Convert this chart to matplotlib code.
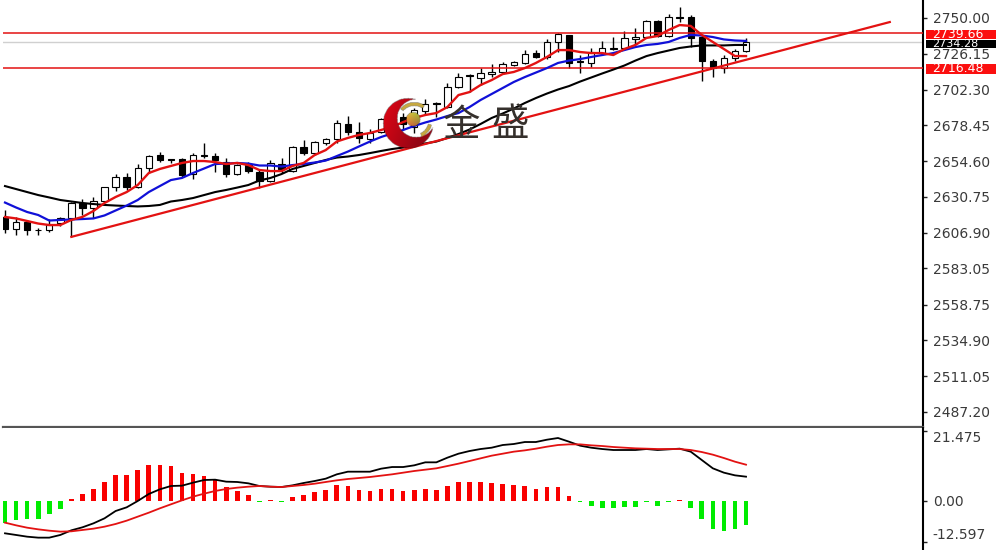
import matplotlib
matplotlib.use('Agg')
import matplotlib.pyplot as plt
from matplotlib.patches import Rectangle
from matplotlib.transforms import blended_transform_factory
import numpy as np

# свечи, значения
opens = [2617.3, 2609.3, 2613.9, 2608.9, 2608.6, 2613.3, 2616.6, 2626.6, 2623.3, 2627.9,
         2637.3, 2643.9, 2637.3, 2649.9, 2658.6, 2655.9, 2655.9, 2645.9, 2658.6, 2657.9,
         2653.9, 2645.9, 2651.9, 2647.3, 2641.3, 2652.6, 2647.9, 2664.0, 2659.9, 2666.6,
         2669.3, 2679.3, 2674.0, 2669.3, 2674.0, 2682.0, 2684.0, 2677.3, 2688.0, 2693.3,
         2690.6, 2704.0, 2712.0, 2710.0, 2712.6, 2714.0, 2718.6, 2720.0, 2726.6, 2724.0,
         2734.0, 2738.7, 2721.0, 2720.0, 2726.6, 2729.3, 2730.0, 2736.0, 2737.3, 2748.0,
         2738.0, 2750.7, 2750.7, 2737.3, 2721.3, 2716.6, 2723.3, 2728.0]
closes = [2609.3, 2613.9, 2608.6, 2608.6, 2611.9, 2616.6, 2626.6, 2623.3, 2627.9, 2637.3,
          2643.9, 2637.3, 2649.9, 2657.9, 2655.3, 2655.3, 2645.3, 2658.6, 2657.9, 2655.3,
          2645.9, 2651.9, 2647.9, 2641.3, 2653.3, 2649.3, 2664.0, 2659.9, 2667.3, 2669.3,
          2680.0, 2674.0, 2670.0, 2673.3, 2682.6, 2676.6, 2679.3, 2688.6, 2692.6, 2692.6,
          2704.0, 2710.6, 2711.6, 2713.3, 2714.0, 2719.3, 2720.6, 2726.0, 2724.0, 2734.0,
          2739.3, 2720.0, 2720.6, 2727.3, 2730.0, 2730.0, 2736.7, 2737.3, 2748.0, 2738.0,
          2750.7, 2750.3, 2736.7, 2721.3, 2716.6, 2723.3, 2728.0, 2734.3]
highs = [2621.9, 2617.3, 2615.3, 2609.9, 2615.9, 2617.3, 2627.3, 2629.3, 2630.6, 2637.3,
         2645.9, 2646.6, 2652.6, 2658.6, 2660.6, 2655.9, 2656.6, 2659.9, 2666.6, 2659.9,
         2656.6, 2652.6, 2653.9, 2648.6, 2655.3, 2656.6, 2664.6, 2668.6, 2668.0, 2670.0,
         2682.0, 2684.6, 2680.6, 2676.0, 2683.3, 2684.0, 2686.6, 2690.0, 2696.0, 2694.0,
         2706.6, 2713.3, 2712.6, 2716.6, 2719.3, 2720.6, 2721.3, 2728.6, 2728.6, 2736.0,
         2740.0, 2738.7, 2725.3, 2730.0, 2734.7, 2737.3, 2741.3, 2743.3, 2748.7, 2748.7,
         2752.7, 2757.3, 2752.0, 2738.7, 2722.6, 2725.3, 2729.3, 2736.7]
lows = [2606.6, 2605.3, 2605.3, 2605.3, 2607.3, 2611.3, 2603.9, 2618.6, 2616.6, 2627.3,
        2634.6, 2635.3, 2636.6, 2646.6, 2653.9, 2653.3, 2643.9, 2642.6, 2656.6, 2647.3,
        2643.9, 2645.3, 2646.6, 2636.6, 2640.6, 2646.6, 2647.3, 2658.6, 2658.6, 2665.3,
        2666.6, 2672.0, 2666.6, 2666.6, 2673.3, 2674.6, 2675.3, 2673.3, 2685.3, 2684.0,
        2690.0, 2703.3, 2700.6, 2705.3, 2710.6, 2713.3, 2718.0, 2719.3, 2723.3, 2722.6,
        2727.3, 2716.6, 2713.3, 2717.3, 2725.3, 2728.6, 2728.6, 2732.0, 2736.7, 2737.3,
        2737.3, 2747.3, 2730.7, 2708.0, 2710.6, 2713.3, 2721.3, 2727.3]

# скользящие средние
ma_black = [2637.9, 2635.9, 2633.9, 2631.9, 2630.3, 2628.6, 2627.6, 2626.6, 2625.9, 2625.3,
            2624.9, 2624.6, 2624.3, 2624.6, 2625.3, 2627.6, 2628.6, 2629.9, 2631.9, 2633.9,
            2635.3, 2636.9, 2638.6, 2641.6, 2643.3, 2645.9, 2649.3, 2651.3, 2653.3, 2655.3,
            2656.9, 2657.6, 2658.6, 2659.9, 2661.3, 2662.6, 2663.6, 2665.0, 2666.3, 2667.6,
            2670.0, 2672.6, 2675.6, 2679.3, 2683.3, 2686.3, 2689.6, 2693.3, 2696.6, 2699.6,
            2702.3, 2704.6, 2707.6, 2710.3, 2713.0, 2715.6, 2718.3, 2721.6, 2724.6, 2726.6,
            2728.3, 2730.0, 2731.0, 2731.7, 2731.7, 2731.7, 2732.0, 2732.0]
ma_blue = [2626.9, 2623.6, 2620.6, 2618.6, 2614.9, 2615.3, 2615.6, 2615.9, 2616.3, 2618.3,
           2621.6, 2624.9, 2628.6, 2633.9, 2637.9, 2641.9, 2643.3, 2646.6, 2649.6, 2652.6,
           2652.9, 2653.3, 2652.9, 2651.6, 2651.6, 2650.9, 2651.9, 2652.6, 2653.6, 2654.9,
           2657.9, 2660.9, 2664.3, 2667.6, 2670.6, 2673.0, 2675.3, 2678.0, 2680.3, 2682.3,
           2684.6, 2686.6, 2690.6, 2695.3, 2699.3, 2703.3, 2707.3, 2710.6, 2713.6, 2716.6,
           2720.0, 2721.6, 2722.6, 2724.0, 2725.3, 2726.6, 2728.6, 2730.6, 2732.0, 2732.7,
           2734.0, 2736.7, 2738.7, 2738.3, 2737.3, 2735.7, 2735.0, 2734.7]
ma_red = [2617.3, 2616.3, 2614.6, 2612.9, 2611.9, 2611.9, 2615.3, 2617.3, 2621.3, 2626.6,
          2630.6, 2633.9, 2638.6, 2646.6, 2649.3, 2651.3, 2653.3, 2654.6, 2654.6, 2653.9,
          2652.6, 2653.3, 2651.9, 2648.6, 2647.9, 2647.9, 2651.3, 2653.3, 2658.6, 2661.9,
          2667.6, 2670.0, 2672.0, 2673.3, 2675.3, 2677.3, 2680.6, 2683.3, 2685.3, 2686.6,
          2690.6, 2698.6, 2700.6, 2705.3, 2708.6, 2712.6, 2714.0, 2716.6, 2720.0, 2724.0,
          2728.6, 2728.6, 2727.3, 2726.6, 2726.6, 2725.3, 2729.3, 2732.0, 2736.7, 2738.0,
          2742.0, 2745.3, 2744.7, 2738.7, 2734.0, 2729.3, 2724.6, 2724.6]

# MACD
macd_hist = [-6.64, -5.93, -5.52, -5.52, -4.09, -2.35, 0.51, 2.04, 3.58, 5.83,
             7.87, 8.07, 9.40, 10.94, 11.14, 10.63, 8.48, 8.28, 7.77, 6.34,
             4.19, 3.07, 1.74, -0.31, 0.30, -0.41, 1.23, 1.74, 2.76, 3.27,
             4.91, 4.60, 3.47, 3.07, 3.68, 3.68, 3.07, 3.27, 3.78, 3.47,
             4.60, 5.72, 5.93, 5.93, 5.52, 5.21, 4.80, 4.60, 3.78, 4.19,
             4.29, 1.53, -0.41, -1.53, -2.04, -2.25, -1.84, -1.74, -0.31, -1.43,
             -0.30, 0.30, -2.04, -5.62, -8.48, -9.10, -8.48, -7.36]
macd_black = [-9.91, -10.42, -10.94, -11.24, -11.24, -10.42, -8.99, -8.07, -6.85, -5.31,
              -3.07, -1.94, 0.0, 2.15, 3.58, 4.60, 4.70, 5.62, 6.44, 6.54,
              5.93, 5.83, 5.42, 4.60, 4.39, 4.29, 4.80, 5.52, 6.13, 6.85,
              8.18, 8.99, 8.99, 8.99, 9.91, 10.42, 10.42, 10.94, 11.86, 11.86,
              13.29, 14.51, 15.33, 15.94, 16.35, 17.17, 17.48, 18.09, 18.09, 18.80,
              19.32, 18.19, 16.97, 16.35, 15.94, 15.64, 15.64, 15.64, 15.94, 15.64,
              15.84, 16.05, 15.13, 12.57, 10.02, 8.69, 7.87, 7.46]
macd_red = [-6.64, -7.46, -8.18, -8.69, -9.10, -9.40, -9.30, -8.89, -8.48, -7.87,
            -7.05, -6.03, -4.80, -3.58, -2.25, -1.02, 0.20, 1.33, 2.25, 3.07,
            3.68, 4.09, 4.39, 4.60, 4.39, 4.29, 4.60, 4.91, 5.31, 5.83,
            6.34, 6.75, 7.05, 7.36, 7.77, 8.18, 8.69, 9.20, 9.61, 10.02,
            10.73, 11.45, 12.26, 13.08, 13.90, 14.51, 15.13, 15.53, 16.05, 16.66,
            17.17, 17.37, 17.37, 17.07, 16.86, 16.56, 16.35, 16.15, 16.05, 15.94,
            15.94, 15.94, 15.64, 15.02, 14.21, 13.18, 12.06, 11.14]

# линии и подписи шкал
trend_x = [6, 80]
trend_y = [2604.0, 2747.3]
level_prices = [2739.66, 2716.48]
last_price = 2734.28
price_ticks = [2750.00, 2726.15, 2702.30, 2678.45, 2654.60, 2630.75,
               2606.90, 2583.05, 2558.75, 2534.90, 2511.05, 2487.20]
macd_ticks = [21.475, 0.00, -12.597]
macd_tick_labels = ['21.475', '0.00', '-12.597']

W, H = 996, 550
STEP = 11.06  # пикселей на свечу
X0 = 5
RED = '#e31212'
TXT = '#3a3a3a'

fig = plt.figure(figsize=(W / 100, H / 100), dpi=100, facecolor='white')
ax = fig.add_axes([3 / W, (H - 427) / H, 920 / W, 427 / H])
ax2 = fig.add_axes([3 / W, 0, 920 / W, (H - 428) / H])

x = np.arange(len(opens))
xlim = ((3 - X0) / STEP, (923 - X0) / STEP)

# горизонтальные уровни
ax.axhline(last_price, color='#d0d0d0', lw=1, zorder=1)
for level in level_prices:
    ax.axhline(level, color=RED, lw=1.1, zorder=4)

# свечи
for i in x:
    black = closes[i] <= opens[i]
    ax.vlines(i, lows[i], highs[i], color='black', lw=1.0, zorder=2)
    bottom = min(opens[i], closes[i])
    height = abs(closes[i] - opens[i])
    ax.bar(i, height, bottom=bottom, width=0.58, facecolor='black' if black else 'white',
           edgecolor='black', linewidth=0.8, zorder=3)

ax.plot(x, ma_black, color='black', lw=1.5, zorder=5)
ax.plot(x, ma_blue, color='#1010d8', lw=1.6, zorder=5)
ax.plot(x, ma_red, color=RED, lw=1.7, zorder=6)
ax.plot(trend_x, trend_y, color=RED, lw=1.6, zorder=6)

ax.set_xlim(xlim)
ax.set_ylim(2762 - 427 * 0.667, 2762)
ax.set_xticks([])
ax.yaxis.tick_right()
ax.set_yticks(price_ticks)
ax.set_yticklabels([f'{p:.2f}' for p in price_ticks], fontsize=10, color=TXT)
ax.tick_params(axis='y', length=3, width=1, pad=4, color='#222222')
for side in ['top', 'left']:
    ax.spines[side].set_visible(False)
ax.spines['right'].set_linewidth(1.5)
ax.spines['bottom'].set_color('#555555')
ax.spines['bottom'].set_linewidth(1.6)

# ценовые метки справа
tr = blended_transform_factory(ax.transAxes, ax.transData)
ax.add_patch(Rectangle((1.003, last_price - 4.0), 0.08, 5.3, transform=tr, facecolor='black',
                       clip_on=False, zorder=7))
ax.text(1.0098, last_price - 1.4, f'{last_price:.2f}', transform=tr, color='white', fontsize=8,
        va='center', clip_on=False, zorder=8)
for level in level_prices:
    ax.add_patch(Rectangle((1.003, level - 4.0), 0.08, 6.6, transform=tr, facecolor='#fb0f0f',
                           clip_on=False, zorder=9))
    ax.text(1.0098, level - 0.4, f'{level:.2f}', transform=tr, color='white', fontsize=9,
            va='center', clip_on=False, zorder=10)

# нижняя панель
for i in x:
    ax2.bar(i, macd_hist[i], width=0.42, color='#f90000' if macd_hist[i] > 0 else '#00ec00', zorder=2)
ax2.plot(x, macd_black, color='black', lw=1.3, zorder=3)
ax2.plot(x, macd_red, color=RED, lw=1.3, zorder=4)
ax2.set_xlim(xlim)
ax2.set_ylim((501 - 550) * 0.3067, (501 - 428) * 0.3067)
ax2.set_xticks([])
ax2.yaxis.tick_right()
ax2.set_yticks(macd_ticks)
ax2.set_yticklabels(macd_tick_labels, fontsize=10, color=TXT)
ax2.tick_params(axis='y', length=3, width=1, pad=4, color='#222222')
labels = ax2.get_yticklabels()
labels[0].set_va('top')
labels[2].set_va('bottom')
for side in ['top', 'left', 'bottom']:
    ax2.spines[side].set_visible(False)
ax2.spines['right'].set_linewidth(1.5)

# логотип поверх графика
logo = fig.add_axes([0, 0, 1, 1], zorder=20)
logo.axis('off')
gx, gy = np.meshgrid(np.arange(380, 436, 0.5), np.arange(96, 150, 0.5))
r_out = np.hypot(gx - 408, gy - 123)
r_in = np.hypot(gx - 416, gy - 118)
ang = np.degrees(np.arctan2(-(gy - 120), gx - 414))
r_arc = np.hypot(gx - 414, gy - 120)
rgba = np.zeros(gx.shape + (4,))

crescent = (r_out <= 25) & (r_in > 19)
shade = np.clip((gx - 383) / 50 + (gy - 100) / 140, 0, 1)
rgba[crescent, 0] = 0.88 - 0.30 * shade[crescent]
rgba[crescent, 1] = 0.02
rgba[crescent, 2] = 0.08
rgba[crescent, 3] = 1

arcs = (r_arc > 14.5) & (r_arc < 18) & (r_in <= 19) & (((ang > 55) & (ang < 140)) | ((ang > -65) & (ang < -15)))
rgba[arcs] = [0.78, 0.66, 0.25, 1]
ball = np.hypot(gx - 413, gy - 119) <= 7
rgba[ball, 0] = 0.90 - 0.02 * (gx[ball] - 406)
rgba[ball, 1] = 0.76 - 0.025 * (gy[ball] - 112)
rgba[ball, 2] = 0.22
rgba[ball, 3] = 1

logo.imshow(rgba, extent=(380, 436, 150, 96), aspect='auto', interpolation='bilinear')
logo.set_xlim(0, W)
logo.set_ylim(H, 0)
cjk = ['Noto Sans CJK SC', 'DejaVu Sans']
logo.text(462, 125, '金', family=cjk, fontsize=27, color='#35302c', ha='center', va='center')
logo.text(510, 125, '盛', family=cjk, fontsize=27, color='#35302c', ha='center', va='center')

fig.savefig('out.png', dpi=100)
plt.close(fig)
